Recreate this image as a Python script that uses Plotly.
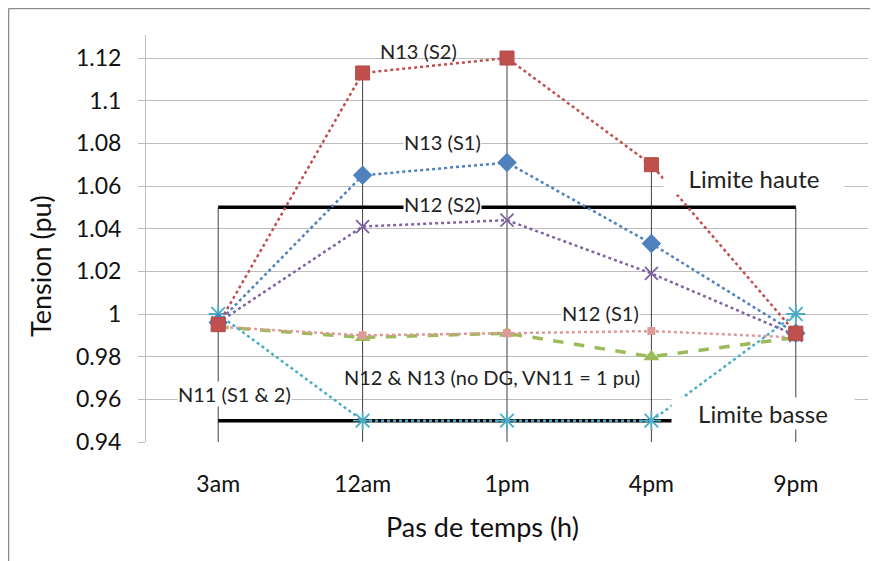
import plotly.graph_objects as go

categories = ["3am", "12am", "1pm", "4pm", "9pm"]
n13_s2 = [0.995, 1.113, 1.120, 1.070, 0.991]
n13_s1 = [0.996, 1.065, 1.071, 1.033, 0.991]
n12_s2 = [0.996, 1.041, 1.044, 1.019, 0.990]
n11_s12 = [1.000, 0.950, 0.950, 0.950, 1.000]
n12_s1 = [0.994, 0.990, 0.991, 0.992, 0.989]
no_dg = [0.994, 0.989, 0.991, 0.980, 0.989]
limite_haute = [1.05, 1.05, 1.05, 1.05, 1.05]
limite_basse = [0.95, 0.95, 0.95, 0.95, 0.95]
y_ticks = [0.94, 0.96, 0.98, 1.0, 1.02, 1.04, 1.06, 1.08, 1.1, 1.12]
y_tick_text = ["0.94", "0.96", "0.98", "1", "1.02", "1.04", "1.06", "1.08", "1.1", "1.12"]
y_min, y_max = 0.94, 1.1308

FONT = "Lato, 'Open Sans', sans-serif"
fig = go.Figure()

# drop lines: from highest value at each category to axis floor
all_series = [n13_s2, n13_s1, n12_s2, n11_s12, n12_s1, no_dg, limite_haute, limite_basse]
dx, dy = [], []
for i, c in enumerate(categories):
    top = max(s[i] for s in all_series)
    dx += [c, c, None]
    dy += [y_min, top, None]
fig.add_trace(go.Scatter(x=dx, y=dy, mode="lines", line=dict(color="#404040", width=1),
                         hoverinfo="skip", showlegend=False))

# limits
for vals in (limite_haute, limite_basse):
    fig.add_trace(go.Scatter(x=categories, y=vals, mode="lines",
                             line=dict(color="black", width=3.5), showlegend=False))

fig.add_trace(go.Scatter(x=categories, y=no_dg, mode="lines+markers",
                         line=dict(color="#9BBB59", width=3.5, dash="dash"),
                         marker=dict(symbol="triangle-up", size=14, color="#9BBB59"),
                         showlegend=False))
fig.add_trace(go.Scatter(x=categories, y=n12_s1, mode="lines+markers",
                         line=dict(color="#DE9A99", width=2.5, dash="dot"),
                         marker=dict(symbol="square", size=8, color="#DE9A99"),
                         showlegend=False))
fig.add_trace(go.Scatter(x=categories, y=n11_s12, mode="lines+markers",
                         line=dict(color="#4BACC6", width=2.5, dash="dot"),
                         marker=dict(symbol="asterisk-open", size=16,
                                     line=dict(color="#4BACC6", width=1.8)),
                         showlegend=False))
fig.add_trace(go.Scatter(x=categories, y=n12_s2, mode="lines+markers",
                         line=dict(color="#8064A2", width=2.5, dash="dot"),
                         marker=dict(symbol="x-thin-open", size=13,
                                     line=dict(color="#8064A2", width=1.8)),
                         showlegend=False))
fig.add_trace(go.Scatter(x=categories, y=n13_s1, mode="lines+markers",
                         line=dict(color="#4F81BD", width=2.5, dash="dot"),
                         marker=dict(symbol="diamond", size=15, color="#4F81BD"),
                         showlegend=False))
fig.add_trace(go.Scatter(x=categories, y=n13_s2, mode="lines+markers",
                         line=dict(color="#C0504D", width=2.5, dash="dot"),
                         marker=dict(symbol="square", size=14, color="#C0504D",
                                     line=dict(color="#B04A47", width=1)),
                         showlegend=False))

annots = [
    dict(text="N13 (S2)", x=2, xshift=-89, y=1.1235, bg=None),
    dict(text="N13 (S1)", x=2, xshift=-65, y=1.0805, bg="white"),
    dict(text="N12 (S2)", x=2, xshift=-65, y=1.0515, bg="white"),
    dict(text="N12 (S1)", x=3, xshift=-51, y=1.0007, bg="white"),
    dict(text="N12 & N13 (no DG, VN11 = 1 pu)", x=2, xshift=-15, y=0.9705, bg=None),
    dict(text="N11 (S1 & 2)", x=0, xshift=16, y=0.9625, bg="white"),
]
for a in annots:
    fig.add_annotation(x=a["x"], y=a["y"], xref="x", yref="y", text=a["text"], xshift=a["xshift"],
                       showarrow=False, font=dict(family=FONT, size=20, color="#222"),
                       bgcolor=a["bg"] if a["bg"] else "rgba(0,0,0,0)", borderpad=0)

fig.add_annotation(x=3, xshift=103, y=1.0635, xref="x", yref="y", text="Limite haute",
                   showarrow=False, width=178, bgcolor="white", borderpad=1,
                   font=dict(family=FONT, size=24, color="#222"))
fig.add_annotation(x=3, xshift=112, y=0.9535, xref="x", yref="y", text="Limite basse",
                   showarrow=False, width=180, bgcolor="white", borderpad=1,
                   font=dict(family=FONT, size=24, color="#222"))

OFF = 8
W, H = 878 - OFF, 561 - OFF
L, R, T, B = 146 - OFF, 10, 35 - OFF, 561 - 442
PW, PH = W - L - R, H - T - B

def px(xr):
    return (xr - OFF - L) / PW

def py(yr):
    return (H - B - (yr - OFF)) / PH

# axis titles (reference pixel coords)
fig.add_annotation(x=px(40), y=py(266), xref="paper", yref="paper", text="Tension (pu)", textangle=-90,
                   xanchor="center", yanchor="middle",
                   showarrow=False, font=dict(family=FONT, size=27, color="#111"))
fig.add_annotation(x=px(482), y=py(526), xref="paper", yref="paper", text="Pas de temps (h)",
                   xanchor="center", yanchor="middle",
                   showarrow=False, font=dict(family=FONT, size=27, color="#111"))

# outer frame (top & left edges)
fig.add_shape(type="line", xref="paper", yref="paper", x0=px(8.5), x1=px(878),
              y0=py(8.5), y1=py(8.5), line=dict(color="#8C8C8C", width=1.5))
fig.add_shape(type="line", xref="paper", yref="paper", x0=px(8.5), x1=px(8.5),
              y0=py(8.5), y1=py(561), line=dict(color="#8C8C8C", width=1.5))

fig.update_layout(
    width=W, height=H,
    margin=dict(l=L, r=R, t=T, b=B),
    paper_bgcolor="white", plot_bgcolor="white",
    showlegend=False, hovermode=False,
    font=dict(family=FONT, color="#111"),
    xaxis=dict(type="category", categoryorder="array", categoryarray=categories,
               range=[-0.5, 4.5], showgrid=False, showline=False, zeroline=False,
               ticks="", tickfont=dict(size=23, family=FONT, color="#111"), ticklabelstandoff=26),
    yaxis=dict(range=[y_min, y_max], tickvals=y_ticks, ticktext=y_tick_text,
               showgrid=True, gridcolor="#BDBDBD", gridwidth=1, zeroline=False,
               showline=True, linecolor="#BDBDBD", linewidth=1,
               ticks="outside", ticklen=7, tickcolor="#BDBDBD",
               tickfont=dict(size=23, family=FONT, color="#111"), ticklabelstandoff=12),
)

fig.write_html("out.html")
